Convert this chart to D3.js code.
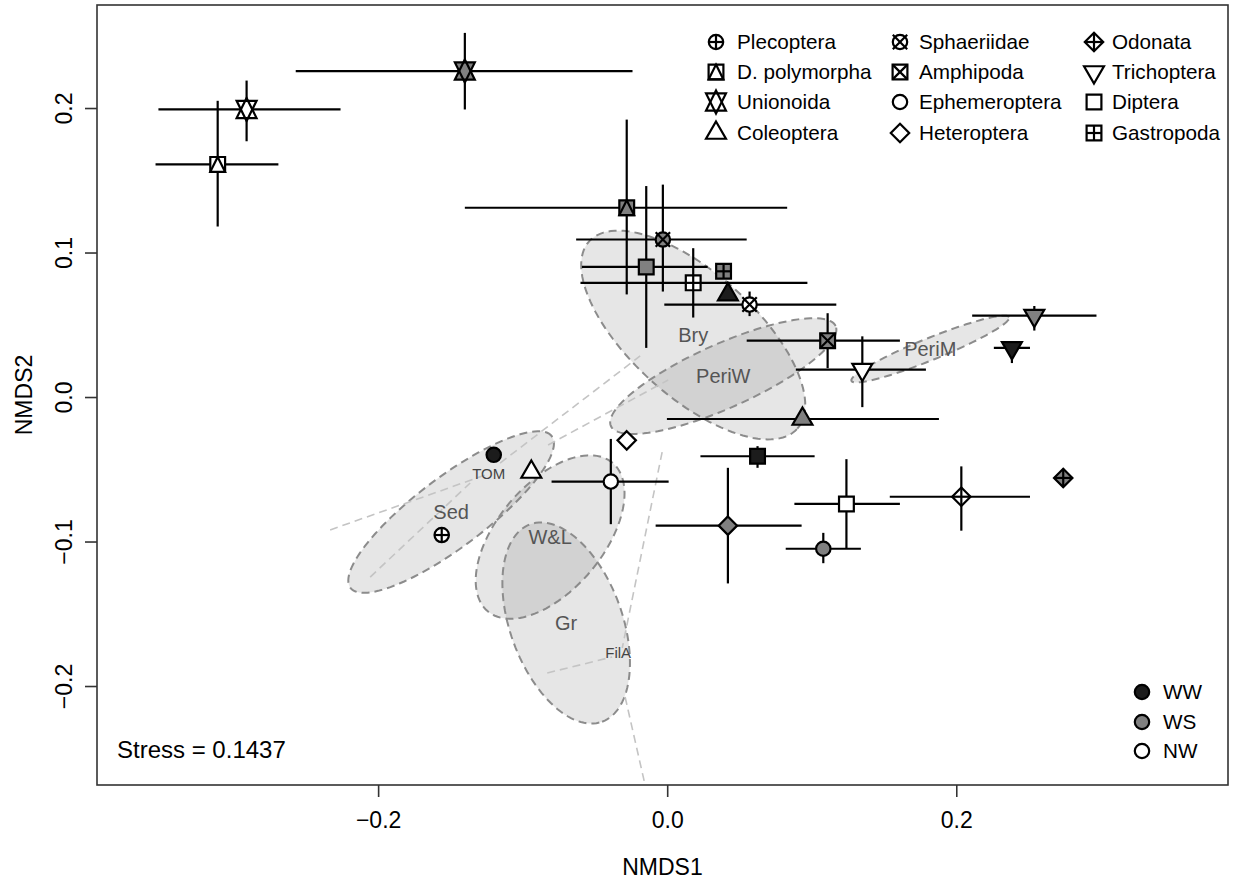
<!DOCTYPE html>
<html><head><meta charset="utf-8">
<script src="https://cdn.jsdelivr.net/npm/d3@7"></script>
<style>
body{margin:0;background:#fff}
svg{display:block}
text{font-family:"Liberation Sans",Arial,Helvetica,sans-serif}
</style></head>
<body><svg id="c" width="1240" height="885"></svg>
<script>
// ---------------- DATA ----------------
const taxa = ["Plecoptera","D. polymorpha","Unionoida","Coleoptera",
              "Sphaeriidae","Amphipoda","Ephemeroptera","Heteroptera",
              "Odonata","Trichoptera","Diptera","Gastropoda"];
const groups = ["WW","WS","NW"];

const ptTaxon = ["D. polymorpha","Unionoida","Unionoida","D. polymorpha","Sphaeriidae","Diptera",
  "Gastropoda","Gastropoda","Coleoptera","Sphaeriidae","Amphipoda","Trichoptera","Trichoptera",
  "Trichoptera","Coleoptera","Heteroptera","Ephemeroptera","Diptera","Heteroptera","Diptera",
  "Ephemeroptera","Odonata","Odonata","Ephemeroptera","Coleoptera","Plecoptera"];
const ptGroup = ["NW","NW","WS","WS","WS","WS","WS","NW","WW","NW","WS","NW","WS",
  "WW","WS","NW","NW","WW","WS","NW","WS","NW","WS","WW","NW","NW"];
const ptX   = [-0.311,-0.291,-0.140,-0.028,-0.003,-0.0145,0.039,0.018,0.042,0.057,0.111,0.135,0.254,
  0.2385,0.0936,-0.028,-0.039,0.0625,0.042,0.124,0.108,0.2035,0.274,-0.120,-0.094,-0.156];
const ptY   = [0.161,0.199,0.2256,0.131,0.109,0.090,0.087,0.079,0.0709,0.064,0.039,0.019,0.0564,
  0.034,-0.0152,-0.030,-0.0585,-0.041,-0.089,-0.074,-0.105,-0.069,-0.056,-0.040,-0.0519,-0.0955];
const ptXlo = [-0.354,-0.352,-0.257,-0.140,-0.063,-0.059,0.039,-0.060,0.042,-0.002,0.055,0.089,0.211,
  0.226,-0.0002,-0.028,-0.080,0.023,-0.008,0.088,0.082,0.154,0.274,-0.120,-0.094,-0.156];
const ptXhi = [-0.269,-0.226,-0.024,0.083,0.055,0.028,0.039,0.097,0.042,0.117,0.161,0.179,0.297,
  0.251,0.188,-0.028,0.001,0.102,0.093,0.161,0.134,0.251,0.274,-0.120,-0.094,-0.156];
const ptYlo = [0.118,0.177,0.199,0.071,0.073,0.034,0.087,0.055,0.0709,0.056,0.020,-0.007,0.046,
  0.0235,-0.0152,-0.030,-0.088,-0.049,-0.129,-0.105,-0.115,-0.0925,-0.056,-0.040,-0.0519,-0.0955];
const ptYhi = [0.205,0.219,0.252,0.192,0.147,0.146,0.087,0.103,0.0709,0.073,0.058,0.042,0.063,
  0.0374,-0.0152,-0.030,-0.029,-0.034,-0.049,-0.043,-0.094,-0.048,-0.056,-0.040,-0.0519,-0.0955];

// habitat ellipses (data units)
const ellName = ["Bry","PeriW","PeriM","Sed","W&L","Gr"];
const ellCx   = [0.018,0.0388,0.182,-0.1495,-0.081,-0.0699];
const ellCy   = [0.0429,0.0145,0.0332,-0.0796,-0.0969,-0.1564];
const ellA    = [0.0969,0.0851,0.0588,0.0872,0.0671,0.0727];
const ellB    = [0.0429,0.0221,0.0076,0.0242,0.0367,0.0388];
const ellAng  = [-42,24,22,37,50,-70];

// faint habitat outlines (TOM, FilA) as segments
const faintName = ["TOM","FilA"];
const faintCx = [-0.1235,-0.0339];
const faintCy = [-0.0533,-0.177];
const faintSeg = [
  [[-0.2332,-0.0920,-0.1260,-0.0540],[-0.1156,-0.0457,-0.0187,0.0284],
   [-0.0824,-0.0332,0.0007,0.0118],[-0.2055,-0.1246,-0.1363,-0.0595]],
  [[-0.0035,-0.0381,-0.0311,-0.1737],[-0.0830,-0.1910,-0.0381,-0.1799],
   [-0.0291,-0.2076,-0.0145,-0.2720]]
];

const xTicks = [-0.2,0.0,0.2];
const yTicks = [-0.2,-0.1,0.0,0.1,0.2];
const stressLabel = "Stress = 0.1437";

// ---------------- STYLE ----------------
const shapeOf = {"Plecoptera":"circlePlus","D. polymorpha":"squareTri","Unionoida":"star",
  "Coleoptera":"triUp","Sphaeriidae":"circleX","Amphipoda":"squareX","Ephemeroptera":"circle",
  "Heteroptera":"diamond","Odonata":"diamondPlus","Trichoptera":"triDown","Diptera":"square",
  "Gastropoda":"squarePlus"};
const fillOf = {"WW":"#1c1c1c","WS":"#808080","NW":"#ffffff"};

const svg = d3.select("#c");
const L=97,R=1228,T=5,B=785;
const x = d3.scaleLinear().domain([-0.3945,0.388]).range([L,R]);
const y = d3.scaleLinear().domain([-0.2685,0.2713]).range([B,T]);

svg.append("defs").append("clipPath").attr("id","clip")
  .append("rect").attr("x",L).attr("y",T).attr("width",R-L).attr("height",B-T);
const plot = svg.append("g").attr("clip-path","url(#clip)");

// ellipses
function ellipsePath(cx,cy,a,b,ang){
  const phi=ang*Math.PI/180, pts=[];
  for(let i=0;i<=120;i++){
    const t=i/120*2*Math.PI, ex=a*Math.cos(t), ey=b*Math.sin(t);
    pts.push([x(cx+ex*Math.cos(phi)-ey*Math.sin(phi)), y(cy+ex*Math.sin(phi)+ey*Math.cos(phi))]);
  }
  return d3.line()(pts)+"Z";
}
ellName.forEach((n,i)=>{
  plot.append("path").attr("d",ellipsePath(ellCx[i],ellCy[i],ellA[i],ellB[i],ellAng[i]))
    .attr("fill","rgb(128,128,128)").attr("fill-opacity",0.2)
    .attr("stroke","#8c8c8c").attr("stroke-width",2).attr("stroke-dasharray","8,5");
});
faintSeg.forEach(segs=>segs.forEach(s=>{
  plot.append("line").attr("x1",x(s[0])).attr("y1",y(s[1])).attr("x2",x(s[2])).attr("y2",y(s[3]))
    .attr("stroke","#c4c4c4").attr("stroke-width",1.6).attr("stroke-dasharray","8,5");
}));
ellName.forEach((n,i)=>{
  plot.append("text").attr("x",x(ellCx[i])).attr("y",y(ellCy[i])).attr("dy","0.36em")
    .attr("text-anchor","middle").attr("font-size",20).attr("fill","#555").text(n);
});
faintName.forEach((n,i)=>{
  plot.append("text").attr("x",x(faintCx[i])).attr("y",y(faintCy[i])).attr("dy","0.36em")
    .attr("text-anchor","middle").attr("font-size",15).attr("fill","#444").text(n);
});

// error bars
const bars = plot.append("g").attr("stroke","#000").attr("stroke-width",2.2);
ptX.forEach((v,i)=>{
  if(ptXhi[i]>ptXlo[i]) bars.append("line").attr("x1",x(ptXlo[i])).attr("x2",x(ptXhi[i]))
     .attr("y1",y(ptY[i])).attr("y2",y(ptY[i]));
  if(ptYhi[i]>ptYlo[i]) bars.append("line").attr("y1",y(ptYlo[i])).attr("y2",y(ptYhi[i]))
     .attr("x1",x(v)).attr("x2",x(v));
});

// symbols
function drawSymbol(g,shape,fill){
  const sw=2.2, Rc=7.2, S=7.4, D=9.2, Tr=11.5;
  const poly=(pts,f)=>g.append("path").attr("d","M"+pts.map(p=>p.join(",")).join("L")+"Z")
      .attr("fill",f).attr("stroke","#000").attr("stroke-width",sw).attr("stroke-linejoin","miter");
  const line=(a,b,c,d)=>g.append("line").attr("x1",a).attr("y1",b).attr("x2",c).attr("y2",d)
      .attr("stroke","#000").attr("stroke-width",sw);
  const circ=()=>g.append("circle").attr("r",Rc).attr("fill",fill).attr("stroke","#000").attr("stroke-width",sw);
  const sq=[[-S,-S],[S,-S],[S,S],[-S,S]];
  const dm=[[0,-D],[D,0],[0,D],[-D,0]];
  switch(shape){
    case "circle": circ(); break;
    case "circlePlus": circ(); line(-Rc,0,Rc,0); line(0,-Rc,0,Rc); break;
    case "circleX": circ(); line(-Rc,-Rc,Rc,Rc); line(-Rc,Rc,Rc,-Rc); break;
    case "square": poly(sq,fill); break;
    case "squareTri": poly(sq,fill); poly([[0,-S],[S,S],[-S,S]],fill); break;
    case "squareX": poly(sq,fill); line(-S,-S,S,S); line(-S,S,S,-S); break;
    case "squarePlus": poly(sq,fill); line(-S,0,S,0); line(0,-S,0,S); break;
    case "diamond": poly(dm,fill); break;
    case "diamondPlus": poly(dm,fill); line(-D,0,D,0); line(0,-D,0,D); break;
    case "triUp": poly([[0,-Tr],[Tr*0.866,Tr/2],[-Tr*0.866,Tr/2]],fill); break;
    case "triDown": poly([[0,Tr],[Tr*0.866,-Tr/2],[-Tr*0.866,-Tr/2]],fill); break;
    case "star": {
      const u=7.4, r=1.555*u, yc=1.166*u, xc=1.3468*u;
      const t1=[[0,-r],[xc,yc],[-xc,yc]], t2=[[0,r],[xc,-yc],[-xc,-yc]];
      poly(t1,fill).attr("stroke","none"); poly(t2,fill).attr("stroke","none");
      poly(t1,"none"); poly(t2,"none"); break;
    }
  }
}
ptX.forEach((v,i)=>{
  const g=plot.append("g").attr("transform",`translate(${x(v)},${y(ptY[i])})`);
  drawSymbol(g,shapeOf[ptTaxon[i]],fillOf[ptGroup[i]]);
});

// box
svg.append("rect").attr("x",L).attr("y",T).attr("width",R-L).attr("height",B-T)
  .attr("fill","none").attr("stroke","#333").attr("stroke-width",1.6);

// axes
const fmt = d3.format(".1f");
const xa = svg.append("g").attr("transform",`translate(0,${B})`)
  .call(d3.axisBottom(x).tickValues(xTicks).tickSize(12).tickPadding(15).tickFormat(fmt));
xa.select(".domain").remove();
xa.selectAll("line").attr("stroke","#333").attr("stroke-width",1.6);
xa.selectAll("text").attr("font-size",23).attr("fill","#000").attr("font-family",null);

const ya = svg.append("g").attr("transform",`translate(${L},0)`)
  .call(d3.axisLeft(y).tickValues(yTicks).tickSize(12).tickFormat(fmt));
ya.select(".domain").remove();
ya.selectAll("line").attr("stroke","#333").attr("stroke-width",1.6);
ya.selectAll("text").attr("font-size",23).attr("fill","#000").attr("font-family",null)
  .attr("x",0).attr("dy",0).attr("text-anchor","middle").attr("transform","translate(-25,0) rotate(-90)");

svg.append("text").attr("x",(L+R)/2).attr("y",875).attr("text-anchor","middle")
  .attr("font-size",23).text("NMDS1");
svg.append("text").attr("transform",`translate(32,${(T+B)/2}) rotate(-90)`).attr("text-anchor","middle")
  .attr("font-size",23).text("NMDS2");

svg.append("text").attr("x",117).attr("y",758).attr("font-size",24).text(stressLabel);

// taxa legend
const legCols=[716,900,1094], legText=[737,919,1112], legRows=[42,72,102,133];
taxa.forEach((t,i)=>{
  const c=Math.floor(i/4), r=i%4;
  const g=svg.append("g").attr("transform",`translate(${legCols[c]},${legRows[r]})`);
  drawSymbol(g,shapeOf[t],"none");
  svg.append("text").attr("x",legText[c]).attr("y",legRows[r]).attr("dy","0.36em")
    .attr("font-size",20.7).text(t);
});
// group legend
const gRows=[692,722,751];
groups.forEach((gname,i)=>{
  svg.append("circle").attr("cx",1142).attr("cy",gRows[i]).attr("r",7.2)
    .attr("fill",fillOf[gname]).attr("stroke","#000").attr("stroke-width",2.2);
  svg.append("text").attr("x",1163).attr("y",gRows[i]).attr("dy","0.36em").attr("font-size",20.7).text(gname);
});
</script></body></html>
